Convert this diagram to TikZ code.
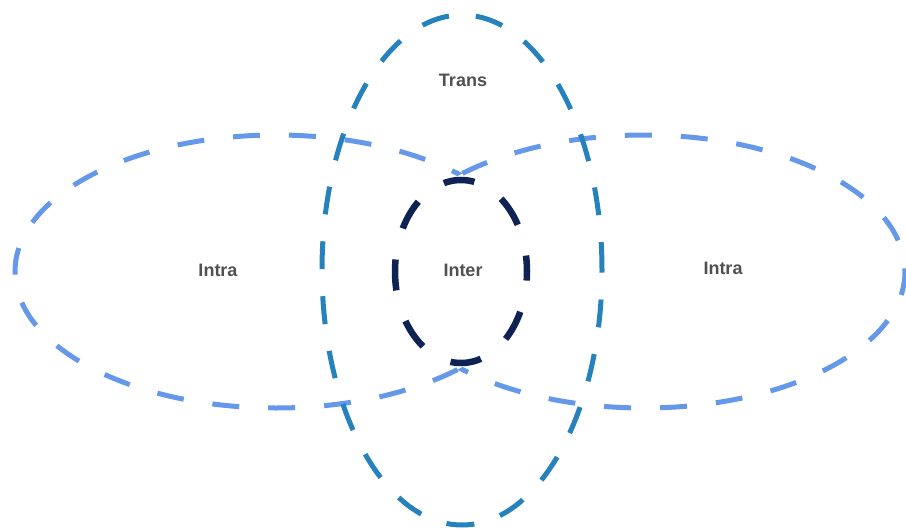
\documentclass[tikz,border=0pt]{standalone}
\usepackage{fontspec}
\setmainfont{Liberation Sans}
\usetikzlibrary{shapes.geometric}
\definecolor{lightset}{RGB}{102,152,234}
\definecolor{transset}{RGB}{38,130,188}
\definecolor{innerset}{RGB}{14,34,84}
\definecolor{labelgray}{RGB}{80,80,80}
\tikzset{
  setshape/.style={ellipse, inner sep=0pt, line width=5pt},
  intraset/.style={setshape, draw=lightset, dash pattern=on 27pt off 29pt},
  transring/.style={setshape, draw=transset, dash pattern=on 28pt off 27pt},
  interring/.style={setshape, draw=innerset, line width=6.5pt, dash pattern=on 31pt off 32pt, dash phase=15pt},
  setlabel/.style={text=labelgray, font=\bfseries\fontsize{18pt}{20pt}\selectfont, inner sep=0pt}
}
\begin{document}
\begin{tikzpicture}[x=1pt,y=-1pt]
\useasboundingbox (0,0) rectangle (906,530);
\begin{scope}[even odd rule]
  \clip (0,0) rectangle (906,530) (644,271.5) ellipse [x radius=261pt, y radius=136.5pt];
  \node[intraset, minimum width=522pt, minimum height=273pt] (leftset) at (276,271.5) {};
\end{scope}
\begin{scope}[even odd rule]
  \clip (0,0) rectangle (906,530) (276,271.5) ellipse [x radius=261pt, y radius=136.5pt];
  \node[intraset, minimum width=522pt, minimum height=273pt, rotate=180] (rightset) at (644,271.5) {};
\end{scope}
\node[transring, minimum width=280pt, minimum height=510pt] (transset) at (462,270) {};
\node[interring, minimum width=132pt, minimum height=183pt] (interset) at (461,271.5) {};
\node[setlabel] (leftlabel) at (218,270) {Intra};
\node[setlabel] (rightlabel) at (723,268) {Intra};
\node[setlabel] (translabel) at (463,80) {Trans};
\node[setlabel] (interlabel) at (463,270) {Inter};
\end{tikzpicture}
\end{document}
